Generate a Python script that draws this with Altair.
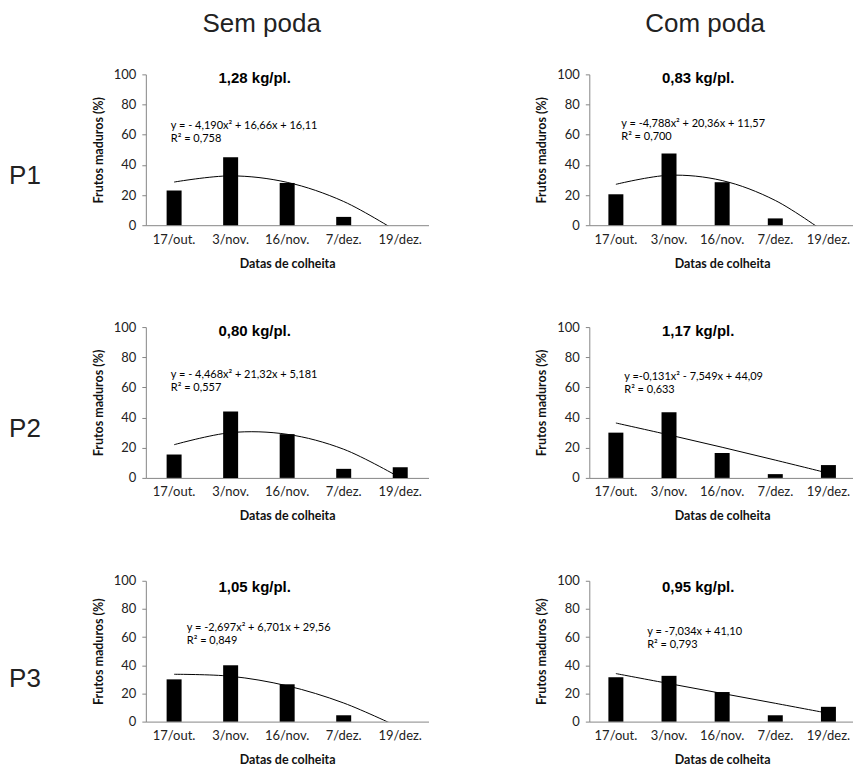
import altair as alt
import pandas as pd

categories = ["17/out.", "3/nov.", "16/nov.", "7/dez.", "19/dez."]
col_titles = ["Sem poda", "Com poda"]
row_titles = ["P1", "P2", "P3"]
y_ticks = [0, 20, 40, 60, 80, 100]

# % frutos maduros (bars)
p1_sem = [23.0, 45.0, 28.0, 5.5, 0.0]
p1_com = [20.5, 47.5, 28.5, 4.5, 0.0]
p2_sem = [15.5, 44.0, 29.0, 6.0, 7.0]
p2_com = [30.0, 43.5, 16.5, 2.5, 8.5]
p3_sem = [30.0, 40.0, 26.5, 4.5, 0.0]
p3_com = [31.5, 32.5, 21.0, 4.5, 10.5]

# trend line values at each harvest date
trend_p1_sem = [28.6, 32.7, 28.4, 15.7, -5.4]
trend_p1_com = [27.1, 33.1, 29.6, 16.4, -6.3]
trend_p2_sem = [22.0, 30.0, 28.9, 19.0, 0.1]
trend_p2_com = [36.4, 28.5, 20.3, 11.8, 3.1]
trend_p3_sem = [33.6, 32.2, 25.4, 13.2, -4.4]
trend_p3_com = [34.1, 27.0, 20.0, 13.0, 5.9]

yields = ["1,28 kg/pl.", "0,83 kg/pl.", "0,80 kg/pl.", "1,17 kg/pl.", "1,05 kg/pl.", "0,95 kg/pl."]
equations = [
    "y = - 4,190x² + 16,66x + 16,11",
    "y = -4,788x² + 20,36x + 11,57",
    "y = - 4,468x² + 21,32x + 5,181",
    "y =-0,131x² - 7,549x + 44,09",
    "y = -2,697x² + 6,701x + 29,56",
    "y = -7,034x + 41,10",
]
r2_texts = ["R² = 0,758", "R² = 0,700", "R² = 0,557", "R² = 0,633", "R² = 0,849", "R² = 0,793"]

bars_all = [p1_sem, p1_com, p2_sem, p2_com, p3_sem, p3_com]
trend_all = [trend_p1_sem, trend_p1_com, trend_p2_sem, trend_p2_com, trend_p3_sem, trend_p3_com]

# layout / style (pixels)
col_widths = [283, 266]
row_heights = [151, 151, 141]
eq_pos = [(25, 55), (32, 53), (25, 51), (35, 53), (41, 50), (58, 54)]
title_y = [9, 9, 11]
row_label_y = [110, 110, 106]

GRAY = "#868686"
LBL = "Lato"
HDR = "Liberation Sans"


def x_enc():
    return alt.X(
        "data:N", sort=categories, title="Datas de colheita",
        scale=alt.Scale(paddingInner=0, paddingOuter=0),
        axis=alt.Axis(ticks=False, labelAngle=0, labelPadding=8, titlePadding=11,
                      labelFontSize=13, titleFontSize=12.5),
    )


def y_enc(field):
    return alt.Y(
        field, title="Frutos maduros (%)",
        scale=alt.Scale(domain=[0, 100], nice=False, zero=True),
        axis=alt.Axis(values=y_ticks, title="Frutos maduros (%)",
                      tickSize=4, labelPadding=6, titlePadding=8, labelOverlap=False,
                      labelFontSize=13, titleFontSize=12.5),
    )


def panel(i, r, c):
    h = row_heights[r]
    df = pd.DataFrame({"data": categories, "pct": bars_all[i], "trend": trend_all[i]})
    base = alt.Chart(df)
    bars = base.mark_bar(size=15, color="black").encode(x=x_enc(), y=y_enc("pct:Q"))
    line = base.mark_line(color="black", strokeWidth=1, interpolate="catmull-rom", clip=True).encode(
        x=x_enc(), y=y_enc("trend:Q")
    )
    t_df = pd.DataFrame({"t": [yields[i]]})
    ttl = alt.Chart(t_df).mark_text(font=HDR, fontWeight="bold", fontSize=15, align="center",
                                    baseline="alphabetic", color="black").encode(
        x=alt.value(109), y=alt.value(title_y[r]), text="t:N")
    ex, ey = eq_pos[i]
    e1 = alt.Chart(pd.DataFrame({"t": [equations[i]]})).mark_text(
        font=LBL, fontSize=11, align="left", baseline="alphabetic", color="black").encode(
        x=alt.value(ex), y=alt.value(ey), text="t:N")
    e2 = alt.Chart(pd.DataFrame({"t": [r2_texts[i]]})).mark_text(
        font=LBL, fontSize=11, align="left", baseline="alphabetic", color="black").encode(
        x=alt.value(ex), y=alt.value(ey + 13), text="t:N")
    layers = [bars, line, ttl, e1, e2]
    if r == 0:
        ct = alt.Chart(pd.DataFrame({"t": [col_titles[c]]})).mark_text(
            font=HDR, fontSize=26, align="center", baseline="alphabetic", color="#222222").encode(
            x=alt.value(116), y=alt.value(-42), text="t:N")
        layers.append(ct)
    if c == 0:
        rt = alt.Chart(pd.DataFrame({"t": [row_titles[r]]})).mark_text(
            font=HDR, fontSize=26, align="center", baseline="alphabetic", color="#222222").encode(
            x=alt.value(-121), y=alt.value(row_label_y[r]), text="t:N")
        layers.append(rt)
    return alt.layer(*layers).properties(width=col_widths[c], height=h)


rows = []
for r in range(3):
    rows.append(alt.hconcat(panel(2 * r, r, 0), panel(2 * r + 1, r, 1), spacing=107))

chart = alt.vconcat(rows[0], alt.vconcat(rows[1], rows[2], spacing=52), spacing=51).properties(
    padding={"left": 1, "top": 3, "right": -2, "bottom": 0}
).configure_view(stroke=None).configure_axis(
    grid=False, domainColor=GRAY, tickColor=GRAY, domainWidth=1,
    labelFont=LBL, labelColor="#222222",
    titleFont=LBL, titleFontWeight="bold", titleColor="#111111",
)

chart.save("out.html", embed_options={"renderer": "svg", "actions": False})
